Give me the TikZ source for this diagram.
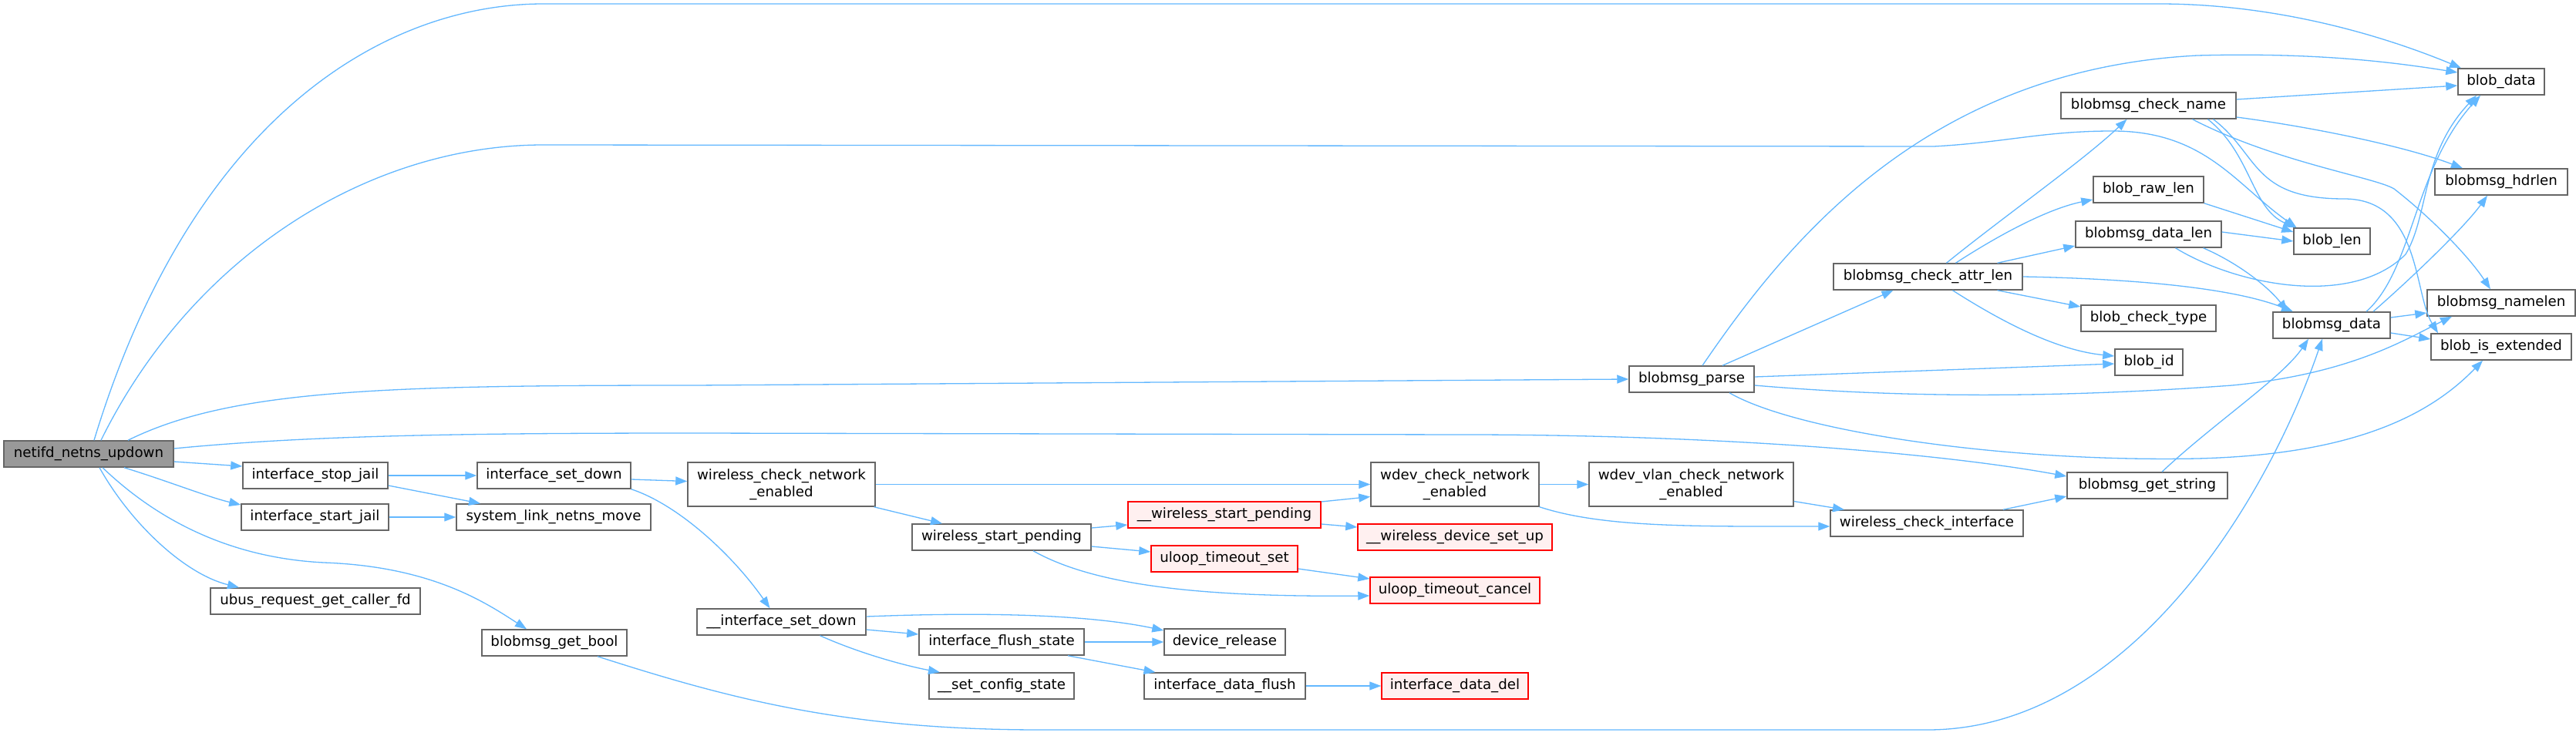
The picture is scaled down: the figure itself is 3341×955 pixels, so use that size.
\documentclass[tikz,border=0pt]{standalone}
\usepackage{fontspec}
\setmainfont{DejaVu Sans}
\usetikzlibrary{arrows.meta,calc}
\definecolor{edgec}{HTML}{63B8FF}
\definecolor{boxd}{HTML}{666666}
\definecolor{redfill}{HTML}{FFF0F0}
\definecolor{rootfill}{HTML}{999999}
\tikzset{
  fn/.style={draw=boxd, fill=white, line width=1.5pt, inner sep=0pt, minimum height=34pt,
    font=\fontsize{18.2}{22}\selectfont, text=black, align=center},
  fntwo/.style={fn, minimum height=57pt},
  rn/.style={fn, draw=red, fill=redfill},
  root/.style={fn, fill=rootfill},
  edge/.style={draw=edgec, line width=1.3pt, -{Triangle[length=15pt,width=11pt]}}
}
\begin{document}
\begin{tikzpicture}[x=1pt,y=-1pt]
\fill[white] (0,0) rectangle (3341,955);
\useasboundingbox (0,0) rectangle (3341,955);
% nodes
\node[root, minimum width=220pt] (netifd) at (115,589) {netifd\_netns\_updown};
\node[fn, minimum width=188pt] (stopj) at (409,617) {interface\_stop\_jail};
\node[fn, minimum width=191pt] (startj) at (408.5,671) {interface\_start\_jail};
\node[fn, minimum width=272pt] (ubus) at (409,780) {ubus\_request\_get\_caller\_fd};
\node[fn, minimum width=199pt] (setdown) at (718.5,617) {interface\_set\_down};
\node[fn, minimum width=252pt] (slnm) at (718,671) {system\_link\_netns\_move};
\node[fn, minimum width=188pt] (gbool) at (719,834) {blobmsg\_get\_bool};
\node[fntwo, minimum width=243pt] (wcne) at (1013.5,628.5) {wireless\_check\_network\\\_enabled};
\node[fn, minimum width=219pt] (isd) at (1013.5,807) {\_\_interface\_set\_down};
\node[fn, minimum width=232pt] (wsp) at (1299,697) {wireless\_start\_pending};
\node[fn, minimum width=214pt] (ifs) at (1299,833) {interface\_flush\_state};
\node[fn, minimum width=188pt] (scs) at (1299,890) {\_\_set\_config\_state};
\node[rn, minimum width=250pt] (uwsp) at (1588,668) {\_\_wireless\_start\_pending};
\node[rn, minimum width=190pt] (uts) at (1588,725) {uloop\_timeout\_set};
\node[fn, minimum width=157pt] (devrel) at (1588.5,833) {device\_release};
\node[fn, minimum width=209pt] (idf) at (1588.5,890) {interface\_data\_flush};
\node[fntwo, minimum width=218pt] (wdev) at (1887,628.5) {wdev\_check\_network\\\_enabled};
\node[rn, minimum width=252pt] (wdsu) at (1887,697) {\_\_wireless\_device\_set\_up};
\node[rn, minimum width=220pt] (utc) at (1887,766) {uloop\_timeout\_cancel};
\node[rn, minimum width=190pt] (idd) at (1887,890) {interface\_data\_del};
\node[fntwo, minimum width=265pt] (wvlan) at (2193.5,628.5) {wdev\_vlan\_check\_network\\\_enabled};
\node[fn, minimum width=162pt] (parse) at (2194,492) {blobmsg\_parse};
\node[fn, minimum width=250pt] (wci) at (2499,679) {wireless\_check\_interface};
\node[fn, minimum width=245pt] (cal) at (2500.5,359) {blobmsg\_check\_attr\_len};
\node[fn, minimum width=208pt] (gstr) at (2785,630) {blobmsg\_get\_string};
\node[fn, minimum width=227pt] (cname) at (2786.5,137) {blobmsg\_check\_name};
\node[fn, minimum width=143pt] (rawlen) at (2786.5,246) {blob\_raw\_len};
\node[fn, minimum width=189pt] (dlen) at (2786.5,304) {blobmsg\_data\_len};
\node[fn, minimum width=175pt] (ctype) at (2786.5,413) {blob\_check\_type};
\node[fn, minimum width=88pt] (bid) at (2787,470) {blob\_id};
\node[fn, minimum width=99pt] (blen) at (3024.5,313) {blob\_len};
\node[fn, minimum width=152pt] (bmdata) at (3024,422) {blobmsg\_data};
\node[fn, minimum width=112pt] (bdata) at (3244,106) {blob\_data};
\node[fn, minimum width=172pt] (hdrlen) at (3244,236) {blobmsg\_hdrlen};
\node[fn, minimum width=192pt] (namelen) at (3244,393) {blobmsg\_namelen};
\node[fn, minimum width=182pt] (isext) at (3244,450) {blob\_is\_extended};
% edges from netifd
\draw[edge] ([xshift=7pt]netifd.north) .. controls (250,150) and (500,5) .. (705,5) -- (2800,5) .. controls (2960,5) and (3100,50) .. ([xshift=-52pt]bdata.north);
\draw[edge] ([xshift=16pt]netifd.north) .. controls (250,330) and (480,188) .. (705,188) -- (2508,190) .. controls (2600,185) and (2650,170) .. (2740,170) .. controls (2860,170) and (2900,240) .. ([xshift=-46pt]blen.north);
\draw[edge] ([xshift=51pt]netifd.north) .. controls (300,505) and (500,500) .. (900,500) -- (parse.west);
\draw[edge] ([yshift=7pt]netifd.east) .. controls (400,565) and (600,562) .. (900,562) -- (1900,564) .. controls (2200,564) and (2500,585) .. ([yshift=12pt]gstr.west);
\draw[edge] ([yshift=-10pt]netifd.east) -- ([yshift=12pt]stopj.west);
\draw[edge] ([xshift=46pt]netifd.south) .. controls (220,625) and (270,645) .. ([yshift=16pt]startj.west);
\draw[edge] ([xshift=14pt]netifd.south) .. controls (170,680) and (240,745) .. ([xshift=-99pt]ubus.north);
\draw[edge] ([xshift=18pt]netifd.south) .. controls (220,690) and (320,725) .. (420,730) .. controls (560,735) and (630,782) .. ([xshift=-36pt]gbool.north);
% jail
\draw[edge] (stopj.east) -- (setdown.west);
\draw[edge] ([yshift=-13pt]stopj.east) -- ([xshift=-95pt]slnm.north);
\draw[edge] (startj.east) -- (slnm.west);
% set down
\draw[edge] ([yshift=-5pt]setdown.east) -- ([yshift=4pt]wcne.west);
\draw[edge] (setdown.south east) .. controls (880,655) and (950,720) .. ([xshift=-15pt]isd.north);
% wireless
\draw[edge] (wcne.east) -- (wdev.west);
\draw[edge] ([xshift=120pt]wcne.south) -- ([xshift=-77pt]wsp.north);
\draw[edge] ([yshift=12pt]wsp.east) -- ([yshift=-13pt]uwsp.west);
\draw[edge] ([yshift=-12pt]wsp.east) -- ([yshift=9pt]uts.west);
\draw[edge] ([xshift=41pt]wsp.south) .. controls (1420,760) and (1560,775) .. ([yshift=-7pt]utc.west);
\draw[edge] ([yshift=17pt]uwsp.east) -- ([yshift=-16pt]wdev.west);
\draw[edge] ([yshift=-12pt]uwsp.east) -- ([yshift=13pt]wdsu.west);
\draw[edge] ([yshift=-13pt]uts.east) -- ([yshift=15pt]utc.west);
\draw[edge] (wdev.east) -- (wvlan.west);
\draw[edge] (wdev.south east) .. controls (2080,685) and (2200,683) .. ([yshift=-4pt]wci.west);
\draw[edge] ([yshift=-22pt]wvlan.east) -- ([xshift=-107pt]wci.north);
\draw[edge] ([xshift=99pt]wci.north) -- ([yshift=-14pt]gstr.west);
\draw[edge] ([xshift=19pt]gstr.north) .. controls (2870,550) and (2960,490) .. ([xshift=-30pt]bmdata.south);
\draw[edge] ([xshift=56pt]gbool.south) .. controls (950,908) and (1100,947) .. (1350,947) -- (2500,947) .. controls (2760,947) and (2940,650) .. ([xshift=-12pt]bmdata.south);
% parse
\draw[edge] ([xshift=14pt]parse.north) .. controls (2320,310) and (2500,90) .. (2850,72) .. controls (3000,68) and (3100,80) .. ([yshift=12pt]bdata.west);
\draw[edge] ([xshift=40pt]parse.north) -- ([xshift=-45pt]cal.south);
\draw[edge] ([yshift=3pt]parse.east) -- ([yshift=-2pt]bid.west);
\draw[edge] ([yshift=-8pt]parse.east) .. controls (2450,515) and (2650,518) .. (2895,500) .. controls (3050,485) and (3120,440) .. ([xshift=-64pt]namelen.south);
\draw[edge] ([xshift=49pt]parse.south) .. controls (2330,560) and (2600,600) .. (2850,595) .. controls (3050,590) and (3150,540) .. ([xshift=-24pt]isext.south);
% check_attr_len
\draw[edge] ([xshift=24pt]cal.north) .. controls (2600,280) and (2700,210) .. ([xshift=-28pt]cname.south);
\draw[edge] ([xshift=36pt]cal.north) .. controls (2600,300) and (2660,270) .. ([yshift=-13pt]rawlen.west);
\draw[edge] ([xshift=90pt]cal.north) -- ([yshift=-15pt]dlen.west);
\draw[edge] (cal.east) .. controls (2780,362) and (2900,375) .. ([xshift=-50pt]bmdata.north);
\draw[edge] ([xshift=90pt]cal.south) -- ([yshift=15pt]ctype.west);
\draw[edge] ([xshift=32pt]cal.south) .. controls (2600,420) and (2670,455) .. ([yshift=8pt]bid.west);
% check_name
\draw[edge] ([yshift=8pt]cname.east) -- ([yshift=-5pt]bdata.west);
\draw[edge] ([yshift=-15pt]cname.east) .. controls (3000,165) and (3120,190) .. ([xshift=-50pt]hdrlen.north);
\draw[edge] ([xshift=77pt]cname.south) .. controls (2920,200) and (2920,270) .. ([xshift=-48pt]blen.north);
\draw[edge] ([xshift=84pt]cname.south) .. controls (2930,200) and (2920,258) .. (3040,258) .. controls (3140,258) and (3130,380) .. ([xshift=-82pt]isext.north);
\draw[edge] ([xshift=57pt]cname.south) .. controls (2950,210) and (3080,230) .. (3105,245) .. controls (3150,280) and (3200,330) .. ([xshift=-14pt]namelen.north);
% len etc
\draw[edge] (rawlen.south east) -- ([yshift=12pt]blen.west);
\draw[edge] ([yshift=3pt]dlen.east) -- (blen.west);
\draw[edge] ([xshift=71pt]dlen.south) .. controls (2900,340) and (2940,370) .. ([xshift=-57pt]bmdata.north);
\draw[edge] ([xshift=35pt]dlen.south) .. controls (2900,370) and (3050,400) .. (3120,330) .. controls (3150,280) and (3140,200) .. ([xshift=-32pt]bdata.south);
\draw[edge] ([xshift=45pt]bmdata.north) .. controls (3130,350) and (3130,220) .. ([xshift=-27pt]bdata.south);
\draw[edge] ([xshift=54pt]bmdata.north) .. controls (3140,350) and (3200,290) .. ([xshift=-18pt]hdrlen.south);
\draw[edge] ([yshift=10pt]bmdata.east) -- ([yshift=-13pt]namelen.west);
\draw[edge] ([yshift=-10pt]bmdata.east) -- ([yshift=10pt]isext.west);
% interface set down internals
\draw[edge] ([yshift=7pt]isd.east) .. controls (1250,795) and (1400,795) .. ([yshift=15pt]devrel.west);
\draw[edge] ([yshift=-10pt]isd.east) -- ([yshift=10pt]ifs.west);
\draw[edge] ([xshift=50pt]isd.south) .. controls (1120,850) and (1180,865) .. ([xshift=-80pt]scs.north);
\draw[edge] (ifs.east) -- (devrel.west);
\draw[edge] ([xshift=86pt]ifs.south) -- ([xshift=-90pt]idf.north);
\draw[edge] (idf.east) -- (idd.west);
\end{tikzpicture}
\end{document}
